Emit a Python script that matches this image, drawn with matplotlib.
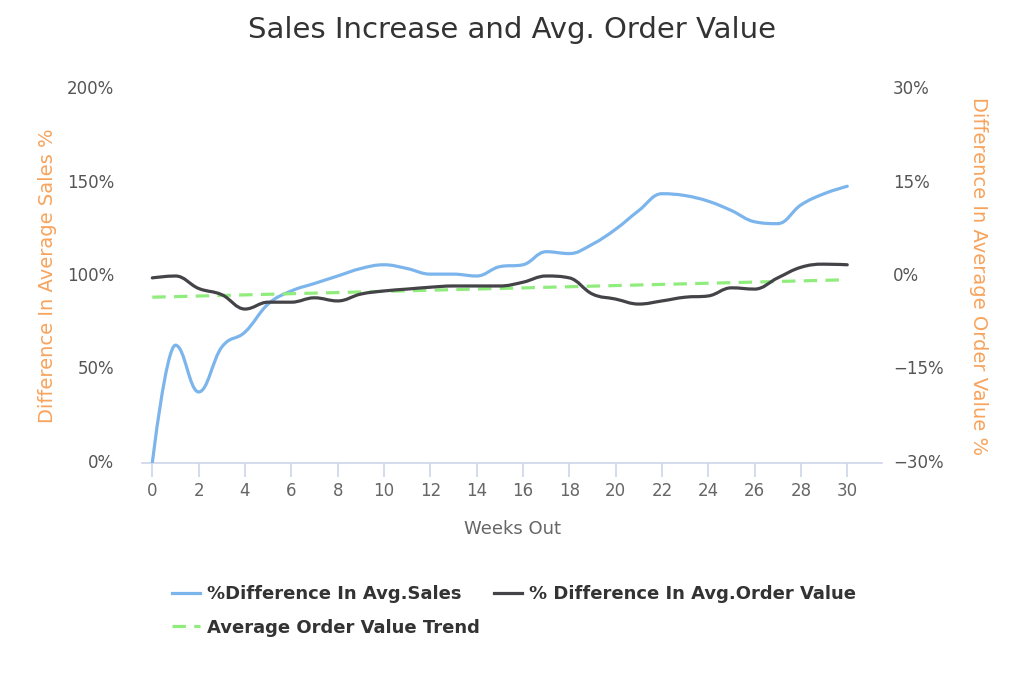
import numpy as np
import matplotlib
matplotlib.use("Agg")
import matplotlib.pyplot as plt
import matplotlib.transforms as mtransforms
from matplotlib.path import Path
from matplotlib.patches import PathPatch
from matplotlib.lines import Line2D
from matplotlib.ticker import FuncFormatter

weeks = list(range(0, 31))
sales_diff = [0, 63, 38, 62, 70, 85, 92, 96, 100, 104, 106, 104, 101, 101, 100,
              105, 106, 113, 112, 117, 125, 135, 144, 143, 140, 135, 129, 128,
              138, 144, 148]
aov_diff = [-0.3, 0.0, -2.0, -3.0, -5.3, -4.2, -4.2, -3.5, -4.0, -2.9, -2.4,
            -2.1, -1.8, -1.6, -1.6, -1.6, -1.0, 0.0, -0.3, -2.9, -3.7, -4.5,
            -4.0, -3.4, -3.2, -1.9, -2.1, -0.3, 1.4, 1.9, 1.8]
trend_start = -3.4
trend_end = -0.6
left_ticks = [0, 50, 100, 150, 200]
right_ticks = [-30, -15, 0, 15, 30]
x_ticks = list(range(0, 31, 2))

title = "Sales Increase and Avg. Order Value"
x_label = "Weeks Out"
left_label = "Difference In Average Sales %"
right_label = "Difference In Average Order Value %"
labels = ["%Difference In Avg.Sales", "% Difference In Avg.Order Value",
          "Average Order Value Trend"]

BLUE = "#7cb5ec"
DARK = "#434348"
GREEN = "#90ed7d"
ORANGE = "#f7a35c"
TXT = "#666666"
LW = 2.3
DASH = (0, (4.2, 2.6))


def spline_path(xs, ys, smoothing=1.5):
    denom = smoothing + 1
    verts = [(xs[0], ys[0])]
    codes = [Path.MOVETO]
    n = len(xs)
    ctrl = []
    for i in range(n):
        if 0 < i < n - 1:
            lx, ly = xs[i - 1], ys[i - 1]
            nx, ny = xs[i + 1], ys[i + 1]
            px, py = xs[i], ys[i]
            lcx = (smoothing * px + lx) / denom
            lcy = (smoothing * py + ly) / denom
            rcx = (smoothing * px + nx) / denom
            rcy = (smoothing * py + ny) / denom
            if rcx != lcx:
                corr = ((rcy - lcy) * (rcx - px)) / (rcx - lcx) + py - rcy
                lcy += corr
                rcy += corr
            if lcy > max(ly, py):
                lcy = max(ly, py); rcy = 2 * py - lcy
            elif lcy < min(ly, py):
                lcy = min(ly, py); rcy = 2 * py - lcy
            if rcy > max(ny, py):
                rcy = max(ny, py); lcy = 2 * py - rcy
            elif rcy < min(ny, py):
                rcy = min(ny, py); lcy = 2 * py - rcy
            ctrl.append(((lcx, lcy), (rcx, rcy)))
        else:
            ctrl.append(((xs[i], ys[i]), (xs[i], ys[i])))
    for i in range(1, n):
        verts += [ctrl[i - 1][1], ctrl[i][0], (xs[i], ys[i])]
        codes += [Path.CURVE4, Path.CURVE4, Path.CURVE4]
    return Path(verts, codes)


fig = plt.figure(figsize=(10.24, 6.83), dpi=100)
ax = fig.add_axes([142 / 1024, 1 - 463 / 683, 740 / 1024, 374 / 683])
ax2 = ax.twinx()

ax.add_patch(PathPatch(spline_path(weeks, sales_diff), facecolor="none",
                       edgecolor=BLUE, lw=LW, capstyle="round", zorder=3))
ax2.add_patch(PathPatch(spline_path(weeks, aov_diff), facecolor="none",
                        edgecolor=DARK, lw=LW, capstyle="round", zorder=3))
ax2.plot([weeks[0], weeks[-1]], [trend_start, trend_end], color=GREEN, lw=LW,
         ls=DASH, zorder=2)

ax.set_xlim(-0.445, 31.5)
ax.set_ylim(0, 200)
ax2.set_ylim(-30, 30)
ax.set_xticks(x_ticks)
ax.set_yticks(left_ticks)
ax2.set_yticks(right_ticks)
pct = FuncFormatter(lambda v, p: f"{v:.0f}%".replace("-", "\u2212"))
ax.yaxis.set_major_formatter(pct)
ax2.yaxis.set_major_formatter(pct)

for a in (ax, ax2):
    for s in a.spines.values():
        s.set_visible(False)
ax.spines["bottom"].set_visible(True)
ax.spines["bottom"].set_color("#ccd6eb")
ax.spines["bottom"].set_linewidth(1.2)
ax.tick_params(axis="x", length=10, width=1.2, color="#ccd6eb",
               labelsize=12, labelcolor=TXT, pad=4)
ax.tick_params(axis="y", length=0, labelsize=12, labelcolor="#555555", pad=20)
ax2.tick_params(axis="y", length=0, labelsize=12, labelcolor="#555555", pad=8)
shift = mtransforms.ScaledTranslation(0, 2 / 100, fig.dpi_scale_trans)
for lab in ax.get_yticklabels() + ax2.get_yticklabels():
    lab.set_va("center_baseline")
    lab.set_transform(lab.get_transform() + shift)

ax.set_xlabel(x_label, fontsize=13, color=TXT, labelpad=14)
ax.set_ylabel(left_label, fontsize=14, color=ORANGE, labelpad=7)
ax2.set_ylabel(right_label, fontsize=14, color=ORANGE, rotation=270,
               labelpad=32)
fig.text(0.5, 1 - 30 / 683, title, ha="center", va="center", fontsize=21,
         color="#333333")

handles = [Line2D([], [], color=BLUE, lw=LW),
           Line2D([], [], color=GREEN, lw=LW, ls=DASH),
           Line2D([], [], color=DARK, lw=LW)]
leg = fig.legend(handles, [labels[0], labels[2], labels[1]], ncol=2,
                 loc="upper left", bbox_to_anchor=(156 / 1024, 1 - 569 / 683),
                 frameon=False,
                 prop={"size": 13, "weight": "bold"},
                 handlelength=1.55, handletextpad=0.4, columnspacing=0.75,
                 labelspacing=0.85)
for t in leg.get_texts():
    t.set_color("#333333")

fig.savefig("out.png", dpi=100)
